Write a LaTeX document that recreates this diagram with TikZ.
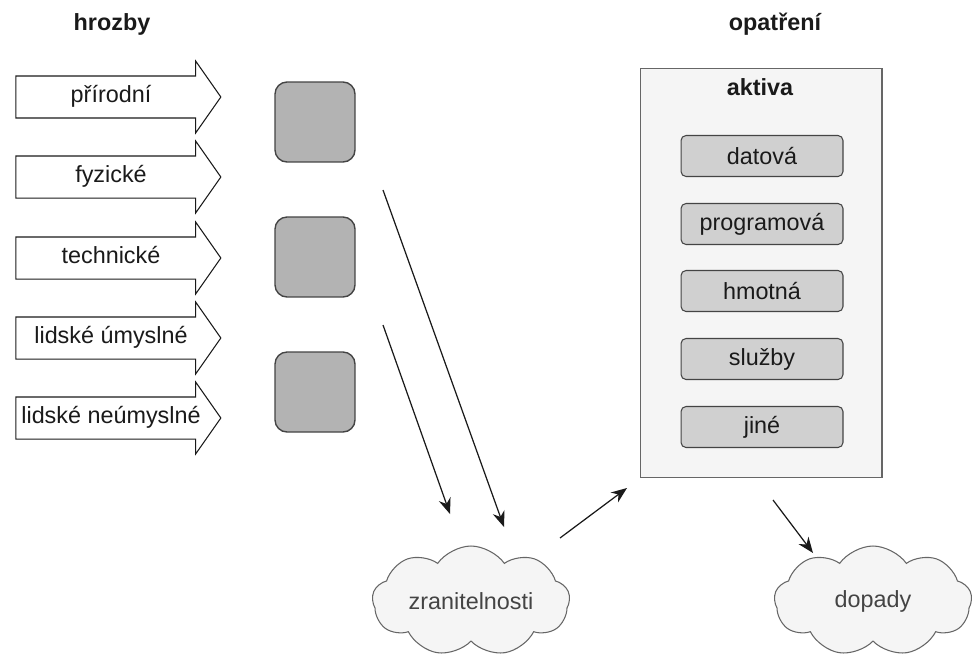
\documentclass[tikz,border=0pt]{standalone}
\usepackage{fontspec}
\setmainfont{Liberation Sans}
\usetikzlibrary{shapes.arrows,shapes.symbols,arrows.meta}
\definecolor{myInk}{HTML}{1a1a1a}
\definecolor{myEdge}{HTML}{666666}
\definecolor{myDark}{HTML}{444444}
\definecolor{mySquare}{HTML}{b3b3b3}
\definecolor{myAsset}{HTML}{d0d0d0}
\definecolor{myPanel}{HTML}{f5f5f5}

\begin{document}
\begin{tikzpicture}[x=0.02cm, y=-0.02cm, >={Stealth[length=9pt,width=7pt]}, line width=0.7pt, myInk,
    font=\fontsize{13.3}{15}\selectfont]
  \tikzstyle{T}=[single arrow, draw=myInk, fill=white, line width=0.6pt, minimum height=4.1cm,
    text height=0.3cm, text depth=0.1cm, inner ysep=0.21cm, inner xsep=2pt,
    single arrow head extend=0.3cm, single arrow tip angle=110]
  \tikzstyle{S}=[rectangle, rounded corners=0.24cm, draw=myDark, fill=mySquare, line width=0.8pt,
    minimum size=1.6cm]
  \tikzstyle{P}=[rectangle, draw=myEdge, fill=myPanel, line width=0.6pt,
    minimum width=4.84cm, minimum height=8.2cm]
  \tikzstyle{A}=[rectangle, rounded corners=0.1cm, draw=myDark, fill=myAsset, line width=0.6pt,
    minimum width=3.24cm, minimum height=0.82cm]
  \tikzstyle{K}=[cloud, cloud puffs=9, cloud puff arc=110, cloud ignores aspect, draw=myEdge, fill=myPanel,
    line width=0.6pt, minimum width=3.95cm, minimum height=2.2cm, text=myDark]
  \tikzstyle{H}=[font=\fontsize{13.3}{15}\selectfont\bfseries]

  \useasboundingbox (0,0) rectangle (972,659);

  % hrozby
  \node[H] at (112,24) (hrozby) {hrozby};
  \node[T] at (111,97) (prirodni) {přírodní};
  \node[T] at (111,177) (fyzicke) {fyzické};
  \node[T] at (111,258) (technicke) {technické};
  \node[T] at (111,338) (umyslne) {lidské úmyslné};
  \node[T] at (111,418) (neumyslne) {lidské neúmyslné};

  \node[S] at (315,122) (s1) {};
  \node[S] at (315,257) (s2) {};
  \node[S] at (315,392) (s3) {};

  % opatreni
  \node[H] at (775,24) (opatreni) {opatření};
  \node[P] at (761,273) (panel) {};
  \node[H] at (760,87) (aktiva) {aktiva};
  \node[A] at (762,156) (datova) {datová};
  \node[A] at (762,224) (programova) {programová};
  \node[A] at (762,291) (hmotna) {hmotná};
  \node[A] at (762,359) (sluzby) {služby};
  \node[A] at (762,427) (jine) {jiné};

  \node[K] at (471,601) (zranitelnosti) {zranitelnosti};
  \node[K] at (873,601) (dopady) {dopady};

  \coordinate (a1) at (383,190);
  \coordinate (b1) at (504,527);
  \coordinate (a2) at (383,325);
  \coordinate (b2) at (450,514);
  \coordinate (a3) at (560,538);
  \coordinate (b3) at (627,488);
  \coordinate (a4) at (773,500);
  \coordinate (b4) at (813,553);

  \draw [->] (a1) -- (b1);
  \draw [->] (a2) -- (b2);
  \draw [->] (a3) -- (b3);
  \draw [->] (a4) -- (b4);

\end{tikzpicture}
\end{document}
